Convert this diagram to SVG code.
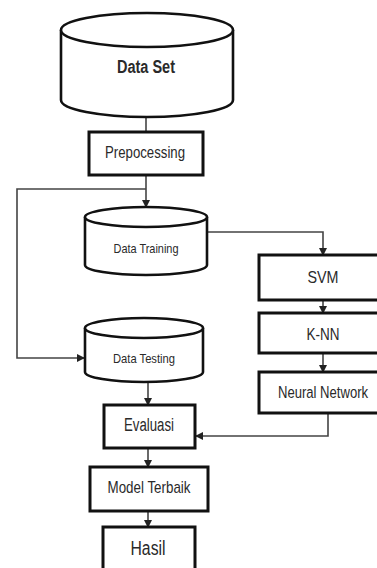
<svg xmlns="http://www.w3.org/2000/svg" width="377" height="568" viewBox="0 0 377 568">
<style>
.box{fill:#fff;stroke:#111;stroke-width:3}
.cyl{fill:#fff;stroke:#111;stroke-width:2.6}
.con{fill:none;stroke:#444;stroke-width:1.6}
text{font-family:"Liberation Sans",Arial,sans-serif;fill:#2a2a2a;text-anchor:middle}
</style>
<defs>
<marker id="ah" markerWidth="8" markerHeight="8" refX="7" refY="4" orient="auto" markerUnits="userSpaceOnUse">
<path d="M0,0 L8,4 L0,8 Z" fill="#222"/>
</marker>
</defs>
<rect width="377" height="568" fill="#fff"/>
<g id="connectors">
<line class="con" x1="146" y1="117" x2="146" y2="132"/>
<line class="con" x1="146" y1="175" x2="146" y2="207" marker-end="url(#ah)"/>
<polyline class="con" points="146,189 17,189 17,358 84,358" marker-end="url(#ah)"/>
<polyline class="con" points="207,232 323,232 323,255" marker-end="url(#ah)"/>
<line class="con" x1="323" y1="300" x2="323" y2="313" marker-end="url(#ah)"/>
<line class="con" x1="323" y1="353" x2="323" y2="372" marker-end="url(#ah)"/>
<polyline class="con" points="328,413 328,436 196,436" marker-end="url(#ah)"/>
<line class="con" x1="148" y1="383" x2="148" y2="405" marker-end="url(#ah)"/>
<line class="con" x1="148" y1="448" x2="148" y2="467" marker-end="url(#ah)"/>
<line class="con" x1="148" y1="511" x2="148" y2="527" marker-end="url(#ah)"/>
</g>
<g id="dataset">
<path class="cyl" d="M61,30 L61,100 A86,17 0 0 0 233,100 L233,30"/>
<ellipse class="cyl" cx="147" cy="30" rx="86" ry="17"/>
<text x="146" y="73" font-size="18" font-weight="bold" textLength="58" lengthAdjust="spacingAndGlyphs">Data Set</text>
</g>
<g id="prepocessing">
<rect class="box" x="89" y="132" width="114" height="43"/>
<text x="145" y="158" font-size="16" textLength="80" lengthAdjust="spacingAndGlyphs">Prepocessing</text>
</g>
<g id="datatraining">
<path class="cyl" d="M85,217 L85,265 A61,10 0 0 0 207,265 L207,217"/>
<ellipse class="cyl" cx="146" cy="217" rx="61" ry="10"/>
<text x="146" y="253" font-size="13" textLength="65" lengthAdjust="spacingAndGlyphs">Data Training</text>
</g>
<g id="datatesting">
<path class="cyl" d="M85,328 L85,372 A59,10 0 0 0 203,372 L203,328"/>
<ellipse class="cyl" cx="144" cy="328" rx="59" ry="10"/>
<text x="144" y="363" font-size="13" textLength="62" lengthAdjust="spacingAndGlyphs">Data Testing</text>
</g>
<g id="svm">
<path class="box" d="M377,255 H259 V300 H377"/>
<text x="323" y="283" font-size="17" textLength="31" lengthAdjust="spacingAndGlyphs">SVM</text>
</g>
<g id="knn">
<path class="box" d="M377,313 H259 V353 H377"/>
<text x="323" y="340" font-size="17" textLength="33" lengthAdjust="spacingAndGlyphs">K-NN</text>
</g>
<g id="neuralnetwork">
<path class="box" d="M377,372 H259 V413 H377"/>
<text transform="translate(323,398) scale(0.77,1)" x="0" y="0" font-size="17">Neural Network</text>
</g>
<g id="evaluasi">
<rect class="box" x="104" y="405" width="91" height="43"/>
<text x="149" y="431" font-size="18" textLength="50" lengthAdjust="spacingAndGlyphs">Evaluasi</text>
</g>
<g id="modelterbaik">
<rect class="box" x="90" y="467" width="118" height="44"/>
<text x="149" y="493" font-size="17" textLength="83" lengthAdjust="spacingAndGlyphs">Model Terbaik</text>
</g>
<g id="hasil">
<path class="box" d="M103,568 V527 H195 V568"/>
<text x="148" y="555" font-size="20" textLength="35" lengthAdjust="spacingAndGlyphs">Hasil</text>
</g>
</svg>
